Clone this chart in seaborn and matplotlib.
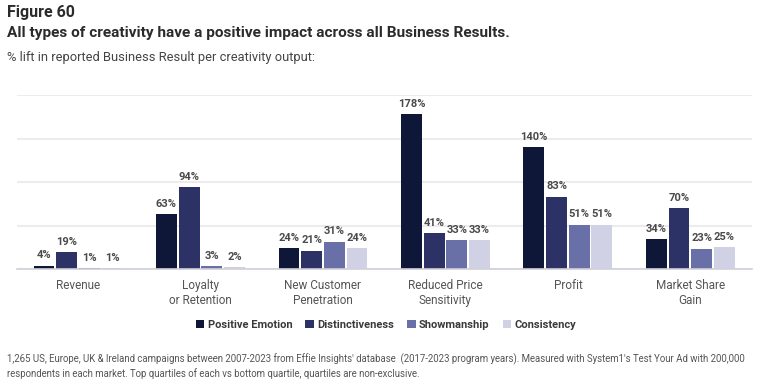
import pandas as pd
import seaborn as sns
import matplotlib.pyplot as plt

# chart data
results = ["Revenue", "Loyalty\nor Retention", "New Customer\nPenetration",
           "Reduced Price\nSensitivity", "Profit", "Market Share\nGain"]
creativity = ["Positive Emotion", "Distinctiveness", "Showmanship", "Consistency"]
positive_emotion = [4, 63, 24, 178, 140, 34]
distinctiveness = [19, 94, 21, 41, 83, 70]
showmanship = [1, 3, 31, 33, 51, 23]
consistency = [1, 2, 24, 33, 51, 25]
colors = ["#08133f", "#222a70", "#5f68b1", "#cdcee7"]

rows = []
for name, vals in zip(creativity, [positive_emotion, distinctiveness, showmanship, consistency]):
    for r, v in zip(results, vals):
        rows.append({"result": r, "type": name, "lift": v})
df = pd.DataFrame(rows)

sns.set_style("white")
plt.rcParams["font.family"] = ["Roboto", "DejaVu Sans"]

fig = plt.figure(figsize=(7.6, 3.91), dpi=100)
ax = fig.add_axes([0.022, 0.312, 0.967, 0.445])

sns.barplot(data=df, x="result", y="lift", hue="type", hue_order=creativity,
            order=results, palette=colors, width=0.74, gap=0.08,
            edgecolor="none", ax=ax, legend=True)

ax.set_ylim(0, 200)
ax.set_yticks([0, 50, 100, 150, 200])
ax.yaxis.grid(True, color="#ececec", linewidth=1.5)
ax.set_axisbelow(True)
ax.set_yticklabels([])
ax.tick_params(axis="y", length=0)
ax.tick_params(axis="x", length=0, pad=7, labelsize=8.5, labelcolor="#555555")
for s in ["top", "right", "left"]:
    ax.spines[s].set_visible(False)
ax.spines["bottom"].set_color("#d0d0d8")
ax.spines["bottom"].set_linewidth(1.2)
ax.set_xlabel("")
ax.set_ylabel("")
for t in ax.get_xticklabels():
    t.set_linespacing(1.25)

# value labels
for cont in ax.containers:
    ax.bar_label(cont, fmt="%d%%", padding=4, fontsize=8, fontweight="bold", color="#4a4a4a")

# legend below the plot
handles, labels = ax.get_legend_handles_labels()
ax.legend_.remove()
leg = fig.legend(handles, labels, loc="center", bbox_to_anchor=(0.508, 0.169), ncol=4,
                 frameon=False, handlelength=0.75, handleheight=0.75, handletextpad=0.3,
                 columnspacing=1.2, prop={"size": 8, "weight": "bold"})
for t in leg.get_texts():
    t.set_color("#3a3a3a")

# titles
fig.text(0.009, 0.968, "Figure 60", fontsize=11.5, fontweight="bold", color="#2b2b2b", va="center")
fig.text(0.009, 0.916, "All types of creativity have a positive impact across all Business Results.",
         fontsize=11.1, fontweight="bold", color="#2b2b2b", va="center")
fig.text(0.009, 0.853, "% lift in reported Business Result per creativity output:",
         fontsize=9.3, color="#444444", va="center")

# footnote
fig.text(0.009, 0.063,
         "1,265 US, Europe, UK & Ireland campaigns between 2007-2023 from Effie Insights' database  (2017-2023 program years). "
         "Measured with System1's Test Your Ad with 200,000\nrespondents in each market. Top quartiles of each vs bottom quartile, quartiles are non-exclusive.",
         fontsize=6.9, color="#555555", va="center", linespacing=1.35)

plt.savefig("out.png", dpi=100)
